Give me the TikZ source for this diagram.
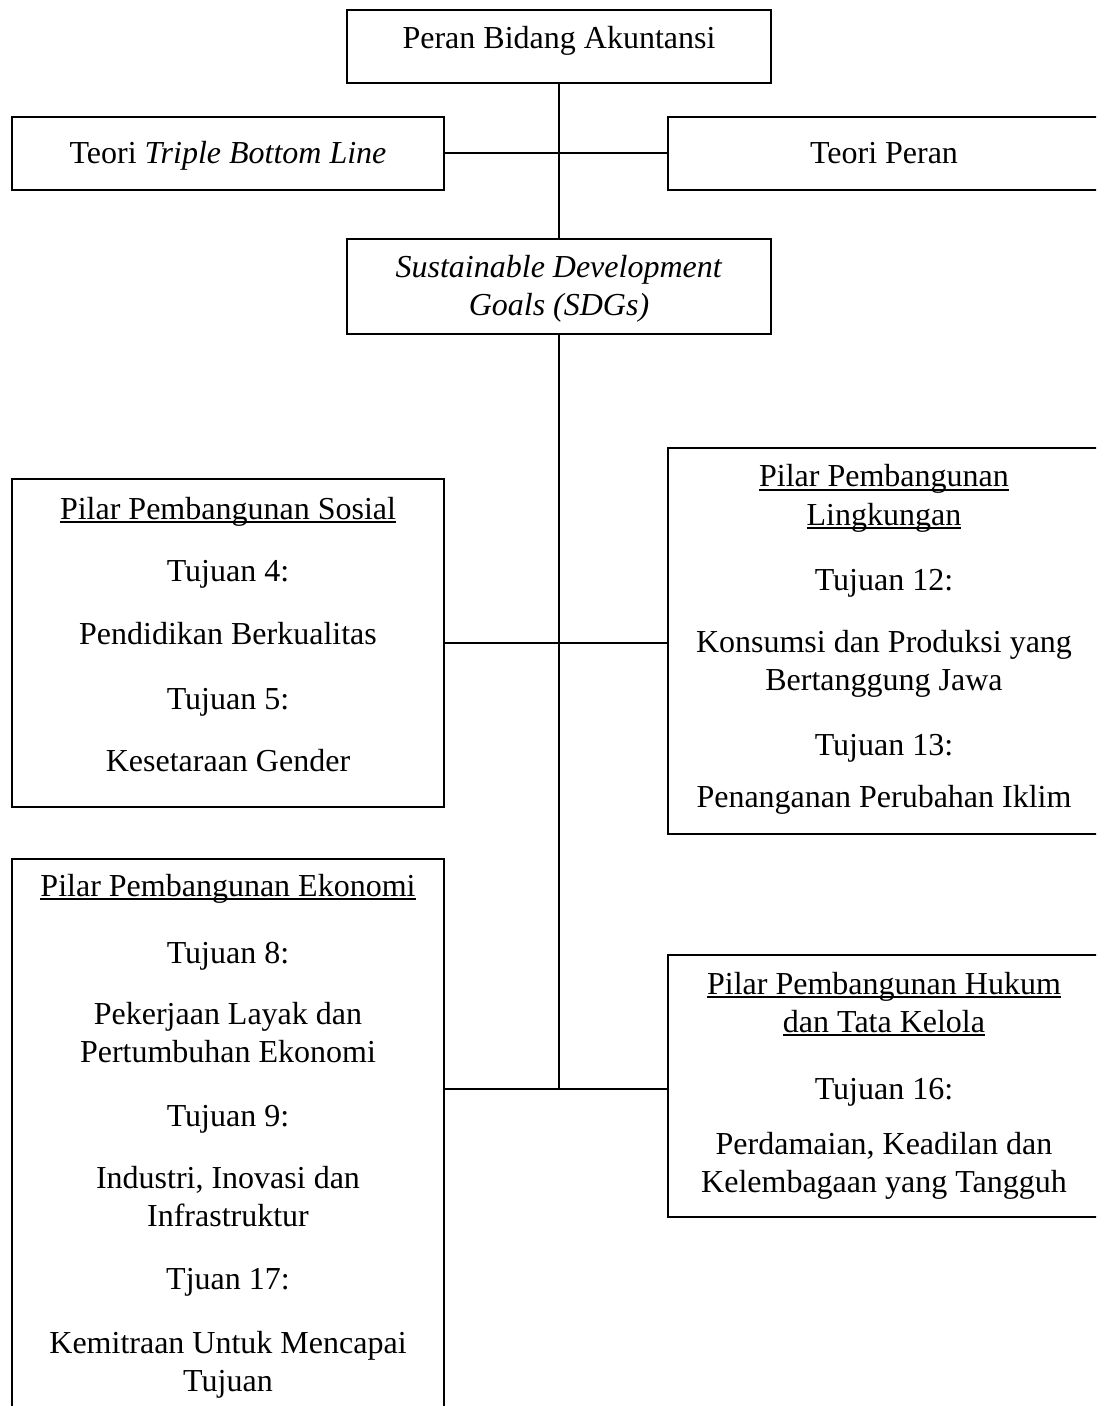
\documentclass[tikz,border=0pt]{standalone}
\usepackage{fontspec}
\setmainfont{Liberation Serif}
\usepackage{tikz}
\usetikzlibrary{shapes,arrows.meta,positioning,calc}
\tikzset{>=latex}
\tikzset{
  kotak/.style={draw, line width=1pt, anchor=north, inner sep=0pt, align=flush center,
    font=\fontsize{16pt}{19pt}\selectfont},
  kotaklebar/.style={kotak, text width=216pt},
  kotaktengah/.style={kotak, text width=212pt},
  garis/.style={line width=1pt}
}
\newsavebox\ulbox
\newcommand\garisbawah[1]{\leavevmode\sbox\ulbox{#1}\rlap{\rule[-1.8pt]{\wd\ulbox}{0.9pt}}\usebox\ulbox}

\begin{document}
\begin{tikzpicture}[x=0.5pt,y=-0.5pt]
    \useasboundingbox (0,0) rectangle (1096,1406);
    \clip (0,0) rectangle (1096,1406);
    \node [kotaktengah, text height=19.5pt, text depth=17pt] (peran) at (559,9) {Peran Bidang Akuntansi};
    \node [kotaklebar, text height=23.5pt, text depth=13pt] (tbl) at (228,116) {Teori \textit{Triple Bottom Line}};
    \node [kotaklebar, text height=23.5pt, text depth=13pt] (teori) at (884,116) {Teori Peran};
    \node [kotaktengah, text height=19.5pt, text depth=28pt] (sdg) at (559,238)
      {\textit{Sustainable Development}\\\textit{Goals (SDGs)}};
    \node [kotaklebar, text height=20pt, text depth=144pt] (sosial) at (228,478)
      {\garisbawah{Pilar Pembangunan Sosial}\\[12pt] Tujuan 4:\\[12.5pt] Pendidikan Berkualitas\\[13.5pt]
       Tujuan 5:\\[12pt] Kesetaraan Gender};
    \node [kotaklebar, text height=19.5pt, text depth=173.5pt] (lingkungan) at (884,447)
      {\garisbawah{Pilar Pembangunan}\\\garisbawah{Lingkungan}\\[13.5pt] Tujuan 12:\\[12pt]
       Konsumsi dan Produksi yang\\Bertanggung Jawa\\[13.5pt] Tujuan 13:\\[7pt] Penanganan Perubahan Iklim};
    \node [kotaklebar, text height=18.5pt, text depth=259.5pt] (ekonomi) at (228,858)
      {\garisbawah{Pilar Pembangunan Ekonomi}\\[14.5pt] Tujuan 8:\\[11.5pt] Pekerjaan Layak dan\\Pertumbuhan Ekonomi\\[13pt]
       Tujuan 9:\\[12pt] Industri, Inovasi dan\\Infrastruktur\\[12.5pt] Tjuan 17:\\[13pt]
       Kemitraan Untuk Mencapai\\Tujuan};
    \node [kotaklebar, text height=19.5pt, text depth=111.5pt] (hukum) at (884,954)
      {\garisbawah{Pilar Pembangunan Hukum}\\\garisbawah{dan Tata Kelola}\\[14.5pt] Tujuan 16:\\[8.5pt]
       Perdamaian, Keadilan dan\\Kelembagaan yang Tangguh};
    \coordinate (ujung) at (559,1089);
    \draw [garis] (peran) -- (sdg);
    \draw [garis] (tbl) -- (teori);
    \draw [garis] (sdg) -- (ujung);
    \draw [garis] (sosial.east) -- (sosial.east -| lingkungan.west);
    \draw [garis] (ekonomi.east |- ujung) -- (hukum.west |- ujung);
\end{tikzpicture}
\end{document}
